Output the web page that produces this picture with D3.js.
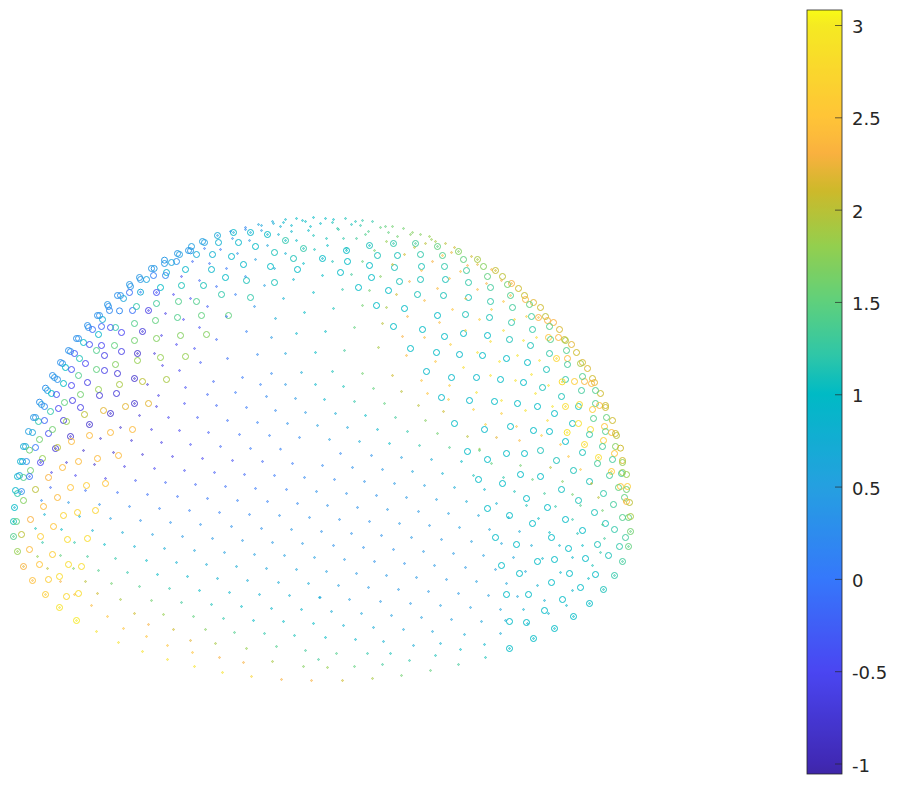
<!DOCTYPE html>
<html><head><meta charset="utf-8"><script src="https://d3js.org/d3.v7.min.js"></script>
<style>html,body{margin:0;background:#fff}svg{display:block}</style></head><body><svg id="c" width="897" height="785"></svg>
<script>
const ringsNW=[[652,76,.7],[700,67,.95],[751,67,.9],[802,73,1],[856,91,1.2],[910,115,1.2],[655,97,.8],[715,97,.9],[766,109,1],[823,127,1.1],[880,145,1.1],[892,178,1],[811,169,1],[730,163,.95],[694,139,.9],[637,133,.8],[574,109,.5],[607,94,.5],[613,97,.5],[565,121,.4],[571,122,.4],[589,133,.7],[532,130,.4],[538,133,.5],[529,154,.3],[514,157,.6],[493,150,.4],[493,160,.4],[556,178,.9],[634,178,.9],[676,202,1],[739,211,1.1],[823,217,1.1],[751,262,1.2],[664,253,1.2],[610,226,1.1],[544,226,1.1],[499,187,.8],[496,196,.2],[460,196,.1],[454,175,.4],[462,175,.4],[439,208,.6],[418,202,.4],[421,208,.4],[388,223,.4],[391,229,.4],[481,232,1],[469,247,-.4],[421,246,.7],[388,247,-.1],[352,256,.3],[361,256,.3],[370,265,.6],[322,283,.4],[325,289,.3],[328,301,.2],[358,302,.2],[397,301,-.1],[409,289,1.2],[469,280,1.3],[535,274,1.4],[589,274,1.4],[445,301,-.6],[466,331,1.5],[532,322,1.4],[604,316,1.5],[685,316,1.5],[403,340,1.4],[427,364,-.7],[292,316,.3],[298,316,.3],[307,328,.7],[262,346,.3],[265,352,.3],[277,358,-.1],[304,349,-.2],[331,352,-.4],[346,352,1.2],[364,367,-.5],[295,373,.9],[235,385,.3],[229,385,.3],[250,397,.9],[268,403,-.4],[304,406,-.5],[343,406,1.5],[403,391,1.6],[469,385,1.7],[541,376,1.7],[619,373,1.7],[205,421,.3],[211,424,.3],[223,430,-.3],[238,445,1.1],[289,421,1.4],[313,436,-.6],[364,424,-.6],[412,430,-.8],[412,451,1.8],[481,442,1.8],[556,439,1.8],[181,457,.3],[187,460,.3],[196,472,1],[214,478,-.4],[256,460,-.5],[346,463,1.7],[289,478,1.5],[313,481,-.6],[352,490,-.7],[403,505,-.8],[427,514,2],[499,508,1.9],[157,496,.3],[163,502,.4],[172,508,.3],[190,520,1],[235,496,1.4],[214,526,-.5],[262,517,-.6],[358,523,1.9],[136,534,.3],[142,541,.5],[154,550,1],[169,553,-.4],[241,553,1.6],[295,538,1.8],[298,556,-.7],[349,550,-.7],[376,589,2.2],[403,580,-.8],[445,580,2.2],[118,576,.3],[124,583,.5],[133,589,.2],[193,577,1.5],[175,595,-.5],[217,571,-.6],[151,604,1.2],[241,592,-.6],[253,613,2],[310,601,2.2],[331,610,-.8],[100,622,.4],[106,622,.4],[115,634,1.2],[133,631,-.2],[190,631,-.7],[199,634,1.8],[268,643,-.8],[331,667,2.4],[397,658,2.4],[85,664,.5],[97,667,.6],[145,670,-.4],[157,658,1.6],[268,676,2.4],[211,679,-.8],[214,694,2.4],[118,688,1.6],[70,709,.7],[76,709,.7],[106,712,0],[166,715,-.7],[172,712,2]];
const dotsNW=[[736,52,.2],[736,58,.2],[775,43,.6],[784,46,.6],[817,34,.7],[820,40,.7],[841,49,.8],[850,37,.9],[856,28,.9],[874,46,.9],[889,25,1],[907,31,1],[916,34,1],[940,22,1],[931,49,1],[925,61,1],[874,64,.9],[889,91,1],[835,73,.8],[784,61,.5],[697,85,.3],[691,64,.3],[748,91,.4],[802,106,.6],[856,130,.8],[910,160,1],[943,118,1.1],[940,76,1.1],[613,115,0],[661,118,0],[712,130,.3],[766,148,.5],[823,175,.7],[880,208,.9],[940,247,1],[577,154,-.2],[628,160,-.1],[679,175,0],[736,199,.3],[793,226,.5],[850,265,.8],[913,307,1],[544,199,-.4],[598,211,-.2],[649,229,-.1],[706,253,.1],[763,289,.3],[826,325,.7],[889,370,.9],[946,427,1],[520,253,-.5],[571,265,-.4],[622,289,-.3],[679,319,-.1],[739,364,.1],[814,382,.4],[856,430,.6],[496,310,-.6],[550,328,-.5],[598,352,-.4],[649,388,-.2],[484,376,-.6],[529,403,-.5],[583,415,-.4],[463,430,-.7],[487,466,-.6],[538,481,-.5],[601,457,-.3],[682,445,-.1],[772,433,.2],[442,523,-.7],[640,514,-.2],[727,502,0],[814,490,.2],[904,487,.7],[946,523,.9],[856,523,.4],[781,523,.1],[475,556,-.6],[556,532,-.4],[622,553,-.2],[706,547,0],[799,559,.2],[886,565,.4],[469,589,-.6],[553,580,-.4],[649,586,-.2],[739,592,0],[826,601,.2],[916,607,.4],[418,616,-.7],[505,622,-.5],[592,622,-.3],[682,631,-.1],[772,637,.1],[862,640,.3],[952,646,.5],[361,652,-.8],[454,658,-.6],[538,661,-.5],[625,667,-.3],[718,673,-.1],[808,676,.1],[898,682,.2],[301,685,-.8],[394,691,-.7],[484,697,-.6],[571,703,-.4],[661,709,-.2],[751,715,0],[841,717,.1],[469,247,-.4],[421,246,.1],[445,301,-.6],[427,364,-.7],[412,430,-.8],[403,505,-.8],[403,580,-.8],[331,610,-.8],[268,643,-.8],[211,679,-.8],[166,715,-.7],[652,76,.4],[700,67,.7],[751,67,.7],[802,73,.9],[856,91,1],[910,115,1.1]];
const ringsNE=[[7,145,1],[79,121,1],[148,106,1.1],[220,100,1.2],[286,100,1.3],[352,109,1.5],[415,124,1.7],[472,148,1.9],[526,181,2.05],[574,220,2.3],[82,154,1],[172,136,1.1],[232,136,1.1],[301,133,1.2],[367,136,1.4],[430,148,1.5],[490,169,1.7],[547,199,2],[595,235,2.1],[613,256,2.05],[616,268,2.35],[640,277,2.2],[661,292,2.1],[676,319,2],[655,322,2.3],[682,331,2.3],[700,337,2.3],[718,358,2.15],[715,382,2.35],[685,382,2.5],[733,388,2.1],[736,391,1.9],[754,403,2.2],[769,427,2.1],[787,457,2.15],[781,460,1.9],[802,475,2.15],[817,505,2.1],[823,517,2.2],[814,520,2.35],[793,514,2.35],[841,550,2.1],[61,187,1],[148,166,1],[223,172,1.1],[304,169,1.1],[373,169,1.2],[439,181,1.3],[502,199,1.5],[562,223,1.6],[154,202,1],[238,214,1.1],[301,208,1.1],[376,208,1.1],[445,217,1.2],[511,232,1.3],[571,256,1.4],[115,232,1],[205,241,1],[292,253,1.1],[370,256,1.1],[445,262,1.1],[511,274,1.2],[577,292,1.3],[628,283,1.5],[169,286,1],[253,295,1],[352,316,1],[436,313,1.1],[508,322,1.1],[574,337,1.2],[634,319,1.3],[688,349,1.4],[220,349,1],[307,358,1],[373,379,1],[430,370,1],[502,376,1],[568,388,1.1],[637,358,1.2],[691,388,1.4],[271,415,1],[349,427,1],[418,433,.95],[487,436,1],[559,445,1],[631,406,1.1],[739,421,1.4],[688,430,1.2],[742,445,2.4],[709,445,2.7],[742,463,1.3],[319,484,.95],[394,502,.95],[469,502,.95],[541,508,1],[622,457,1],[610,517,1],[679,478,1.1],[736,508,1.2],[726,515,2.8],[763,514,2.6],[787,499,1.4],[784,541,1.3],[826,541,1.4],[364,562,.95],[448,571,.95],[523,574,1],[592,580,1],[667,532,1.1],[652,589,1],[724,559,1.1],[736,589,2.8],[775,589,1.1],[778,583,2.8],[826,580,1.4],[838,586,2.4],[856,586,2.1],[856,592,2.1],[817,598,2.6],[703,610,1],[820,625,1.4],[859,622,1.5],[877,631,2.1],[403,640,1],[493,658,.95],[571,649,1],[640,661,1],[688,664,1],[757,640,1.05],[775,640,2.85],[741,667,2.9],[811,658,2.8],[808,673,1.2],[853,649,2.5],[856,664,1.4],[874,667,2.4],[886,670,2.1],[889,676,2],[850,691,2.6],[736,694,1],[793,703,2.8],[847,709,1.3],[886,709,1.7],[901,714,2.1]];
const dotsNE=[[1,40,1],[16,25,1],[40,28,1],[37,37,1.1],[76,25,1.1],[106,34,1.1],[94,43,1.1],[121,46,1.2],[127,31,1.2],[157,34,1.2],[52,55,1.2],[55,58,1.2],[145,64,1.4],[136,73,1.4],[181,52,1.5],[196,49,1.5],[217,49,1.6],[205,67,1.5],[250,55,1.6],[232,79,1.6],[271,73,1.7],[277,67,1.7],[301,73,1.7],[328,79,1.8],[334,88,1.8],[346,94,1.9],[376,100,2],[316,100,2],[199,94,1.8],[19,85,1.1],[70,85,1.2],[109,85,1.3],[22,106,1],[79,115,1.1],[163,121,1.6],[283,112,2],[403,112,2.1],[394,127,2.2],[367,136,2.4],[454,139,2.1],[253,133,2.1],[127,154,1.5],[37,154,1.1],[337,154,2.3],[442,166,2.3],[472,163,2.2],[514,178,2.3],[217,163,2.1],[304,181,2.4],[421,184,2.4],[94,193,1.3],[7,196,1],[181,199,1.7],[388,205,2.4],[268,214,2.3],[544,211,2.3],[499,220,2.3],[67,238,1.2],[148,241,1.6],[352,235,2.4],[472,238,2.4],[229,253,2.1],[436,265,2.5],[313,271,2.4],[550,274,2.5],[127,286,1.6],[199,292,1.9],[40,295,1.1],[397,298,2.5],[514,298,2.6],[262,319,2.3],[478,328,2.6],[619,319,2.6],[583,328,2.7],[358,337,2.4],[187,340,2],[103,352,1.5],[16,364,1],[436,361,2.7],[550,361,2.8],[247,379,2.3],[313,382,2.4],[649,382,2.8],[511,394,2.8],[610,391,2.9],[391,403,2.6],[175,412,1.9],[73,421,1.3],[472,427,2.9],[259,436,2.4],[592,436,2.9],[346,454,2.5],[538,454,2.9],[658,451,2.9],[430,472,2.8],[37,484,1.1],[127,490,1.6],[217,496,2.1],[634,493,2.9],[511,496,2.9],[304,511,2.5],[586,511,2.9],[388,526,2.6],[685,526,2.9],[70,529,1.1],[160,535,1.5],[244,544,2],[322,550,2.5],[469,547,2.9],[646,550,2.9],[13,568,.9],[103,574,1.2],[193,580,1.5],[295,586,2],[385,568,2.6],[544,571,2.9],[460,598,2.6],[697,589,2.9],[616,601,2.9],[46,610,.7],[136,616,1],[226,622,1.3],[370,604,2.1],[544,610,2.6],[682,631,2.8],[316,631,1.7],[82,652,.6],[172,658,.9],[262,664,1.2],[352,670,1.6],[496,643,2.6],[589,649,2.5],[442,679,2],[529,682,2.2],[664,676,2.6],[28,688,.5],[118,694,.7],[208,700,1],[298,706,1.2],[388,712,1.4],[478,717,1.8],[598,691,2.4],[721,703,2.5],[7,145,.9],[79,121,1],[148,106,1],[220,100,1.2],[286,100,1.3],[352,109,1.5],[415,124,1.7],[472,148,1.9],[526,181,2.1],[574,220,2.3],[571,256,2.3],[655,322,2.4],[709,445,2.8],[726,515,2.8],[736,589,2.8],[741,667,2.9],[793,703,2.8]];
const ringsSW=[[88,0,1.6],[127,25,1.8],[121,37,-.5],[61,34,.8],[67,34,.8],[79,34,.3],[187,52,2.4],[235,34,2.4],[292,25,2.4],[355,16,2.4],[91,61,1.6],[52,79,.9],[58,76,.6],[70,82,1.4],[88,79,-.1],[145,82,2.3],[316,100,2.5],[259,106,2.6],[211,112,2.5],[106,118,2],[46,121,.9],[64,124,.3],[52,130,1.2],[70,151,1.7],[172,142,2.4],[43,172,1],[130,169,2.4],[286,181,2.7],[232,187,2.7],[190,196,2.7],[91,208,2.3],[40,214,1.1],[49,214,1.5],[160,229,2.5],[64,253,2],[40,259,1.4],[121,259,2.6],[202,268,2.8],[262,265,2.8],[52,304,1.8],[88,298,2.4],[157,313,2.6],[70,349,2.3],[118,343,2.5],[205,343,2.8],[244,349,2.8],[97,391,2.45],[145,388,2.6],[178,379,2.8],[136,433,2.6],[199,439,2.75],[235,430,2.8],[178,472,2.9],[229,511,3]];
const dotsSW=[[250,1,-.8],[340,7,-.8],[427,13,-.7],[517,19,-.6],[607,25,-.5],[697,31,-.4],[787,34,-.2],[877,40,0],[199,37,-.7],[283,43,-.8],[373,49,-.6],[463,55,-.5],[553,61,-.4],[643,67,-.3],[733,73,-.2],[823,76,0],[913,82,.2],[154,67,-.6],[226,76,-.5],[316,85,-.6],[406,91,-.3],[496,97,-.2],[586,103,-.2],[676,109,-.1],[766,115,0],[859,118,.1],[949,124,.3],[151,112,-.2],[256,121,-.1],[352,127,-.1],[442,133,-.1],[532,139,-.1],[622,145,0],[712,151,.1],[802,154,.1],[892,160,.2],[124,151,.2],[205,157,.4],[298,163,.3],[388,169,.2],[478,175,.1],[568,181,.1],[658,187,.1],[748,193,.2],[838,196,.3],[928,202,.3],[133,193,.8],[238,199,.7],[331,205,.5],[421,211,.3],[511,217,.3],[601,223,.3],[694,229,.3],[784,235,.3],[874,238,.4],[106,235,1.1],[184,238,1],[277,241,.8],[367,247,.7],[457,253,.5],[547,259,.4],[637,265,.4],[727,271,.4],[817,277,.4],[907,280,.4],[127,277,1.2],[223,277,1.2],[313,283,1],[403,289,.8],[493,295,.7],[583,301,.6],[673,307,.5],[763,313,.5],[853,316,.5],[943,322,.5],[112,319,1.8],[181,316,1.5],[262,319,1.3],[346,325,1.2],[439,331,1],[529,337,.8],[619,343,.7],[709,349,.7],[799,355,.6],[889,358,.6],[142,355,2],[220,355,1.7],[295,361,1.4],[382,367,1.2],[472,373,1],[562,379,.9],[652,385,.8],[742,391,.7],[835,397,.7],[925,400,.7],[181,394,2.3],[256,394,2],[334,400,1.6],[418,409,1.4],[508,415,1.2],[598,421,1],[688,427,.9],[778,433,.8],[868,436,.8],[958,442,.8],[223,433,2.4],[292,430,2.1],[361,448,1.9],[454,451,1.6],[544,457,1.3],[634,463,1.1],[724,469,1],[814,475,.9],[904,478,.9],[274,466,2.4],[403,490,2.1],[322,499,2.5],[490,493,1.8],[580,499,1.5],[670,505,1.2],[760,511,1],[850,514,1],[940,520,1],[445,523,2.3],[289,544,2.9],[370,535,2.5],[520,538,2.1],[616,538,1.7],[703,547,1.4],[793,550,1.2],[883,556,1.1],[439,559,2.5],[355,577,2.9],[571,571,2.2],[646,580,1.9],[502,586,2.5],[427,604,2.9],[577,607,2.5],[739,595,1.8],[829,589,1.4],[916,601,1.3],[502,628,2.9],[658,622,2.3],[730,637,2.3],[817,634,1.9],[955,628,1.3],[583,649,2.9],[910,649,1.7],[667,667,2.9],[754,679,2.7],[844,688,2.3],[934,691,2.3],[121,37,-.6],[88,79,-.2],[64,124,.1],[43,172,.8],[40,214,1],[40,259,1.4],[52,304,1.8],[70,349,2.2],[97,391,2.4],[136,433,2.6],[178,472,2.9],[229,511,3]];
const ringsSE=[[442,4,1],[502,28,1],[559,10,1],[613,10,1],[661,1,1.1],[709,31,1.1],[787,7,1.1],[835,22,2.8],[832,40,1.3],[883,10,2.5],[877,28,1.3],[907,31,2.1],[907,37,1.8],[475,88,1],[547,100,1],[601,73,1],[661,79,1],[760,61,1.1],[874,64,2.6],[868,76,1.3],[904,70,1.3],[907,67,1.8],[919,73,1.8],[808,94,1.1],[724,118,1.05],[901,109,2.5],[895,112,1.5],[922,109,2.6],[919,118,1.6],[850,130,1.2],[880,163,1.3],[913,142,1.5],[919,154,2.4],[928,157,2],[619,145,1],[775,151,1.1],[682,172,1],[502,175,1],[568,196,1],[823,187,1.1],[907,202,1.4],[925,202,1.5],[931,199,1.9],[736,208,1],[637,220,1],[856,220,1.1],[883,238,1.2],[931,244,1.6],[787,241,1],[526,262,1],[694,262,1],[916,262,1.3],[589,283,1],[745,295,1],[832,283,1.1],[898,289,1.2],[925,289,1.5],[703,328,1],[652,334,1],[796,325,1],[865,316,1.1],[907,334,1.3],[544,346,1],[598,370,1],[748,370,1],[826,373,1],[883,376,1.2],[694,397,1],[781,412,1],[850,418,1.1],[559,433,1],[625,433,1],[727,448,1],[808,460,1],[673,481,1],[760,499,1],[568,514,1],[619,517,1],[703,535,1],[640,565,1],[568,595,1]];
const dotsSE=[[61,10,.2],[154,16,.3],[244,22,.5],[334,28,.7],[424,34,1],[7,46,.2],[97,52,.3],[187,58,.4],[277,64,.6],[367,70,.8],[460,76,1.1],[43,88,.2],[133,94,.3],[223,100,.4],[313,106,.5],[403,112,.7],[493,118,.9],[79,130,.3],[169,136,.3],[259,142,.4],[349,148,.5],[439,154,.7],[529,160,.8],[22,166,.3],[112,172,.3],[202,178,.4],[295,184,.4],[385,190,.5],[475,196,.6],[565,202,.8],[58,208,.3],[148,214,.3],[238,220,.4],[328,226,.4],[418,232,.5],[508,238,.6],[598,244,.7],[4,244,.3],[94,250,.3],[184,256,.3],[274,262,.4],[364,268,.4],[454,274,.5],[544,280,.6],[634,286,.7],[40,286,.3],[130,292,.3],[220,298,.3],[310,304,.4],[400,310,.4],[490,316,.5],[580,322,.6],[73,328,.4],[163,334,.3],[253,340,.3],[343,346,.4],[436,352,.4],[526,358,.5],[616,364,.6],[19,364,.5],[109,370,.4],[199,376,.4],[289,382,.4],[379,388,.4],[469,394,.5],[559,400,.6],[55,406,.5],[145,412,.4],[235,418,.4],[325,424,.4],[415,430,.4],[505,436,.5],[592,439,.6],[0,442,.6],[88,448,.5],[181,454,.4],[271,460,.4],[361,466,.5],[451,472,.5],[541,478,.6],[34,484,.7],[124,490,.6],[214,496,.5],[304,502,.5],[394,508,.5],[484,514,.6],[70,526,.8],[160,532,.7],[250,538,.6],[337,544,.6],[433,553,.7],[541,550,.7],[16,562,1],[106,568,.9],[190,574,.8],[280,586,.7],[361,580,.8],[493,583,.9],[421,598,1],[49,610,1.4],[142,610,1.2],[211,610,1.1],[346,616,1.1],[268,631,1.2],[496,622,1.1],[187,643,1.3],[415,643,1.3],[22,652,1.8],[103,649,1.5],[331,661,1.5],[244,676,1.6],[157,685,1.9],[67,691,2.1],[478,1,1.5],[514,40,1.5],[601,46,1.6],[691,52,2],[745,19,2.5],[781,58,2.5],[550,82,1.2],[637,88,1.5],[727,94,1.7],[814,100,2.1],[583,124,1.1],[673,130,1.3],[757,133,1.6],[835,142,2],[619,166,1.1],[706,169,1.2],[781,166,1.4],[847,181,1.6],[655,205,1],[757,208,1.2],[847,223,1.4],[688,247,1],[772,250,1.1],[853,265,1.3],[718,286,.9],[787,286,1],[841,307,1.2],[667,325,.9],[757,322,.9],[817,346,1.1],[721,367,.9],[805,385,1],[652,406,.8],[757,421,.9],[673,451,.8],[739,466,.9],[610,478,.8],[685,490,.8],[556,511,.7],[622,520,.8],[913,154,2.2],[835,22,2.8],[874,64,2.6],[931,244,1.5],[925,289,1.4],[907,334,1.3],[883,376,1.2],[850,418,1.1],[808,460,1],[760,499,1],[703,535,1],[640,565,1],[568,595,1]];
const colorBarTicks=[-1,-0.5,0,0.5,1,1.5,2,2.5,3];
const colorStops=[-1.06,-1,-.5,0,.5,1,1.2,1.5,1.8,2.1,2.3,2.5,3,3.08];
const colorValues=["#3e26a8","#4029b4","#4a46f2","#3578fb","#25a0e0","#00bac5","#2dc6a9","#5fd07c","#93cf4e","#cdb92a","#f9b13f","#ffc437","#f5ea22","#f9fb15"];

const color=d3.scaleLinear().domain(colorStops).range(colorValues).clamp(true);
const svg=d3.select("#c");
const quad=[[ringsNW,dotsNW,0,210],[ringsNE,dotsNE,320,210],[ringsSW,dotsSW,0,450],[ringsSE,dotsSE,320,450]];
const gp=svg.append("g").attr("fill","none");
quad.forEach(([rings,dots,ox,oy])=>{
  const x=d3.scaleLinear().domain([0,960]).range([ox+.17,ox+320.17]);
  const y=d3.scaleLinear().domain([0,720]).range([oy+.17,oy+240.17]);
  gp.append("g").selectAll("circle").data(rings).join("circle")
    .attr("cx",d=>x(d[0])).attr("cy",d=>y(d[1])).attr("r",3).attr("stroke-width",.95).attr("stroke",d=>color(d[2]));
  gp.append("g").selectAll("circle").data(dots).join("circle")
    .attr("cx",d=>x(d[0])).attr("cy",d=>y(d[1])).attr("r",.8).attr("stroke-width",.85).attr("stroke",d=>color(d[2]));
});
// colour bar
const barScale=d3.scaleLinear().domain([-1,3]).range([763.5,25]);
const barLeft=807,barRight=842,barTop=10,barBottom=774;
const grad=svg.append("defs").append("linearGradient").attr("id","g").attr("x1",0).attr("x2",0).attr("y1",1).attr("y2",0);
d3.range(0,257).forEach(i=>{const t=i/256;const v=-1.06+t*4.14;grad.append("stop").attr("offset",t).attr("stop-color",color(v));});
svg.append("rect").attr("x",barLeft).attr("y",barTop).attr("width",barRight-barLeft).attr("height",barBottom-barTop).attr("fill","url(#g)");
const ax=svg.append("g").attr("transform",`translate(${barRight},0)`)
 .call(d3.axisRight(barScale).tickValues(colorBarTicks).tickFormat(d=>String(d)).tickSizeInner(-7).tickSizeOuter(0).tickPadding(10));
ax.select(".domain").remove();
ax.selectAll("line").attr("stroke","#262626").attr("stroke-width",.7);
ax.selectAll("text").attr("fill","#262626").attr("font-family","'DejaVu Sans'").attr("font-size",18).attr("dy","0.42em");
svg.append("rect").attr("x",barLeft).attr("y",barTop).attr("width",barRight-barLeft).attr("height",barBottom-barTop).attr("fill","none").attr("stroke","#262626").attr("stroke-width",.8);
</script></body></html>
